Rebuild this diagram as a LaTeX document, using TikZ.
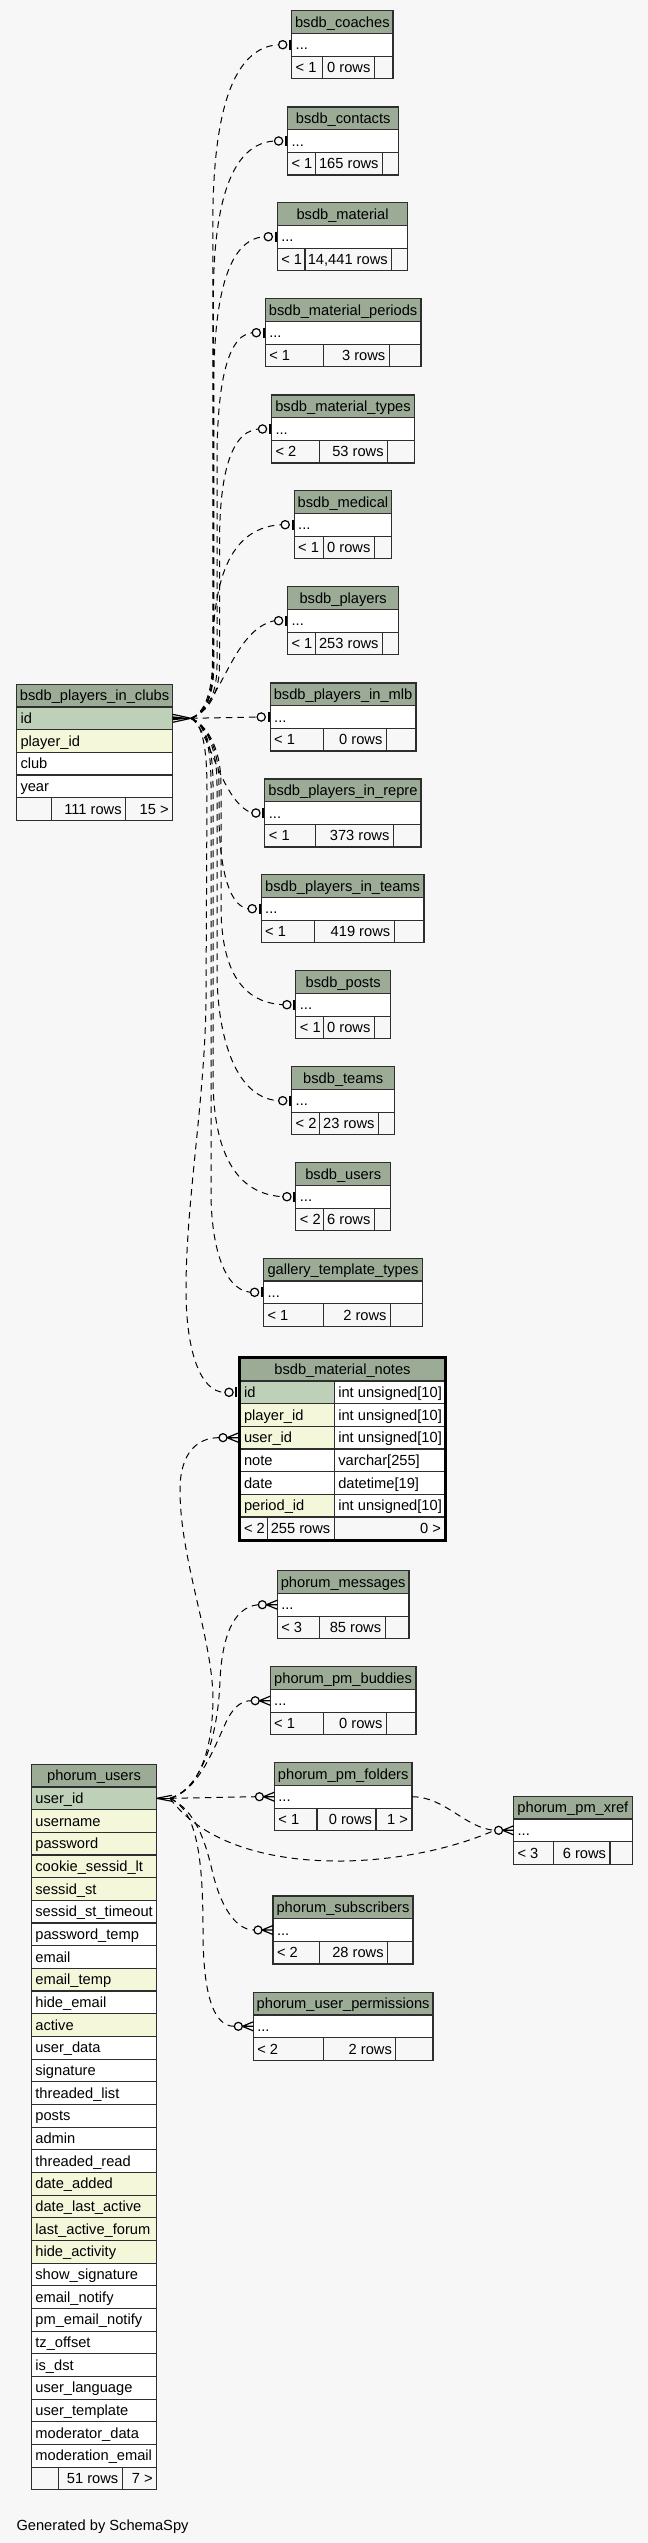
\documentclass[tikz,border=0pt]{standalone}
\usepackage{fontspec}
\setmainfont{Liberation Sans}
\definecolor{ttlc}{HTML}{9BAB96}
\definecolor{pkc}{HTML}{BED1B8}
\definecolor{idxc}{HTML}{F4F7DA}
\definecolor{bgc}{HTML}{F7F7F7}
\definecolor{linec}{HTML}{2E2E2E}
\newcommand{\rowH}{22.67}
\newcommand{\basel}{5.1}
\newcommand{\padx}{4}
\newcommand{\ctabR}{}
% collapsed table: name, xl, yt, xr, s1, s2, title, left, mid
\newcommand{\ctab}[9]{%
  \path[tblfill=ttlc] (#2,#3) rectangle (#4,{#3+\rowH});
  \path[tblfill=white] (#2,{#3+\rowH}) rectangle (#4,{#3+2*\rowH});
  \path[tblfill=bgc] (#2,{#3+2*\rowH}) rectangle (#5,{#3+3*\rowH});
  \path[tblfill=bgc] (#5,{#3+2*\rowH}) rectangle (#6,{#3+3*\rowH});
  \path[tblfill=bgc] (#6,{#3+2*\rowH}) rectangle (#4,{#3+3*\rowH});
  \node[txt,anchor=base] (#1) at ({(#2+#4)/2},{#3+0.5*\rowH+\basel}) {#7};
  \node[txt,anchor=base west] (#1-dots) at ({#2+\padx},{#3+1.5*\rowH+\basel}) {...};
  \node[txt,anchor=base west] (#1-fl) at ({#2+\padx},{#3+2.5*\rowH+\basel}) {#8};
  \node[txt,anchor=base east] (#1-fm) at ({#6-\padx},{#3+2.5*\rowH+\basel}) {#9};
  \node[txt,anchor=base east] (#1-fr) at ({#4-\padx},{#3+2.5*\rowH+\basel}) {\ctabR};
  \coordinate (#1-in) at (#2,{#3+1.5*\rowH});
  \coordinate (#1-out) at (#4,{#3+1.5*\rowH});
  \coordinate (#1-e) at ({#2-13.2},{#3+1.5*\rowH});
  \coordinate (#1-c) at ({#2-19},{#3+1.5*\rowH});
}
% one row: xl, xr, ytop, fill, text, name
\newcommand{\trow}[6]{%
  \path[tblfill=#4] (#1,#3) rectangle (#2,{#3+\rowH});
  \node[txt,anchor=base west] (#6) at ({#1+\padx},{#3+0.5*\rowH+\basel}) {#5};
}
\newcommand{\teeodot}[1]{%
  \draw[line width=1.6pt,draw=black] ([shift={(-1.6,-5)}]#1) -- ([shift={(-1.6,5)}]#1);
  \draw[glyph] ([shift={(-9,0)}]#1) circle[radius=3.1pt];
}
\newcommand{\crowodot}[1]{%
  \draw[crowl] ([shift={(-11,0)}]#1) -- ([shift={(0,-4.5)}]#1)
               ([shift={(-11,0)}]#1) -- (#1)
               ([shift={(-11,0)}]#1) -- ([shift={(0,4.5)}]#1);
  \draw[glyph] ([shift={(-15,0)}]#1) circle[radius=3pt];
}
\begin{document}
\begin{tikzpicture}[x=0.75pt,y=-0.75pt,
  txt/.style={inner sep=0pt,outer sep=0pt,font=\fontsize{11pt}{13pt}\selectfont,text=black},
  tblfill/.style={fill=#1,draw=linec,line width=0.8pt},
  edge/.style={draw=black,line width=0.75pt,dash pattern=on 4.9pt off 3.8pt},
  glyph/.style={draw=black,line width=0.9pt,fill=bgc},
  crowl/.style={draw=black,line width=0.9pt}]
\fill[bgc] (0,0) rectangle (648,2543);
\useasboundingbox (0,0) rectangle (648,2543);

% ---------- collapsed tables ----------
\ctab{coaches}{291.7}{10.7}{393}{322.3}{374.4}{bsdb\_coaches}{< 1}{0 rows}
\ctab{contacts}{287.6}{107}{398.8}{315.3}{382.6}{bsdb\_contacts}{< 1}{165 rows}
\ctab{material}{277.3}{202.7}{407.9}{305}{391.7}{bsdb\_material}{< 1}{14,441 rows}
\ctab{periods}{265.3}{298.7}{421}{323.6}{389.3}{bsdb\_material\_periods}{< 1}{3 rows}
\ctab{types}{271.5}{395}{414.5}{319.4}{387.6}{bsdb\_material\_types}{< 2}{53 rows}
\ctab{medical}{294.2}{490.7}{391.7}{323.6}{374.4}{bsdb\_medical}{< 1}{0 rows}
\ctab{players}{287.6}{586.7}{398.8}{315.3}{382.6}{bsdb\_players}{< 1}{253 rows}
\ctab{mlb}{270.2}{683}{416}{323.6}{386.4}{bsdb\_players\_in\_mlb}{< 1}{0 rows}
\ctab{repre}{264.9}{779}{421}{315.7}{393.4}{bsdb\_players\_in\_repre}{< 1}{373 rows}
\ctab{inteams}{261.2}{874.7}{424}{314.5}{394.2}{bsdb\_players\_in\_teams}{< 1}{419 rows}
\ctab{posts}{295.9}{970.7}{390.5}{323.6}{374.4}{bsdb\_posts}{< 1}{0 rows}
\ctab{teams}{291.7}{1066.7}{394.6}{319.4}{378.5}{bsdb\_teams}{< 2}{23 rows}
\ctab{users}{295.9}{1162.7}{390.5}{323.6}{374.4}{bsdb\_users}{< 2}{6 rows}
\ctab{gallery}{263.6}{1258.3}{422.3}{323.6}{390.5}{gallery\_template\_types}{< 1}{2 rows}
\ctab{messages}{277.3}{1570.7}{409}{319.4}{385.1}{phorum\_messages}{< 3}{85 rows}
\ctab{buddies}{270.2}{1666.7}{416}{323.6}{386.4}{phorum\_pm\_buddies}{< 1}{0 rows}
\renewcommand{\ctabR}{1 >}
\ctab{folders}{274.4}{1762.7}{412}{317}{376}{phorum\_pm\_folders}{< 1}{0 rows}
\renewcommand{\ctabR}{}
\ctab{xref}{513.6}{1796.3}{632.2}{553.3}{610}{phorum\_pm\_xref}{< 3}{6 rows}
\ctab{subscribers}{273}{1896}{413}{319.4}{387.6}{phorum\_subscribers}{< 2}{28 rows}
\ctab{perms}{253.3}{1992.3}{433}{323.6}{395.9}{phorum\_user\_permissions}{< 2}{2 rows}

% ---------- bsdb_players_in_clubs ----------
\path[tblfill=ttlc] (16.5,684.3) rectangle (172.7,{684.3+\rowH});
\node[txt,anchor=base] (pic) at (94.6,{684.3+0.5*\rowH+\basel}) {bsdb\_players\_in\_clubs};
\foreach \t/\c [count=\i] in {id/pkc,player\_id/idxc,club/white,year/white}{
  \trow{16.5}{172.7}{684.3+\i*\rowH}{\c}{\t}{pic-\i}
}
\path[tblfill=bgc] (16.5,{684.3+5*\rowH}) rectangle (51.2,{684.3+6*\rowH});
\path[tblfill=bgc] (51.2,{684.3+5*\rowH}) rectangle (125.6,{684.3+6*\rowH});
\path[tblfill=bgc] (125.6,{684.3+5*\rowH}) rectangle (172.7,{684.3+6*\rowH});
\node[txt,anchor=base east] (pic-fm) at (121.6,{684.3+5.5*\rowH+\basel}) {111 rows};
\node[txt,anchor=base east] (pic-fr) at (168.7,{684.3+5.5*\rowH+\basel}) {15 >};
\coordinate (pic-id-out) at (172.7,718.3);

% ---------- bsdb_material_notes ----------
\path[tblfill=ttlc] (240,1358.3) rectangle (445,{1358.3+\rowH});
\node[txt,anchor=base] (notes) at (342.5,{1358.3+0.5*\rowH+\basel}) {bsdb\_material\_notes};
\foreach \t/\c/\ty [count=\i] in {id/pkc/int unsigned[10],player\_id/idxc/int unsigned[10],user\_id/idxc/int unsigned[10],note/white/varchar[255],date/white/datetime[19],period\_id/idxc/int unsigned[10]}{
  \trow{240}{334.3}{1358.3+\i*\rowH}{\c}{\t}{notes-\i}
  \trow{334.3}{445}{1358.3+\i*\rowH}{white}{\ty}{notes-t\i}
}
\path[tblfill=bgc] (240,{1358.3+7*\rowH}) rectangle (267.8,{1358.3+8*\rowH});
\path[tblfill=bgc] (267.8,{1358.3+7*\rowH}) rectangle (334.3,{1358.3+8*\rowH});
\path[tblfill=bgc] (334.3,{1358.3+7*\rowH}) rectangle (445,{1358.3+8*\rowH});
\node[txt,anchor=base west] (notes-fl) at (244,{1358.3+7.5*\rowH+\basel}) {< 2};
\node[txt,anchor=base east] (notes-fm) at (330.3,{1358.3+7.5*\rowH+\basel}) {255 rows};
\node[txt,anchor=base east] (notes-fr) at (441,{1358.3+7.5*\rowH+\basel}) {0 >};
\draw[black,line width=2.2pt] (239.2,1357.4) rectangle (445.8,1540.6);
\coordinate (notes-id-in) at (238,{1358.3+1.5*\rowH});
\coordinate (notes-id-e) at (224.8,{1358.3+1.5*\rowH});
\coordinate (notes-uid-in) at (238,{1358.3+3.5*\rowH});
\coordinate (notes-uid-c) at (219,{1358.3+3.5*\rowH});

% ---------- phorum_users ----------
\path[tblfill=ttlc] (31.4,1764.3) rectangle (156.6,{1764.3+\rowH});
\node[txt,anchor=base] (pusers) at (94,{1764.3+0.5*\rowH+\basel}) {phorum\_users};
\foreach \t/\c [count=\i] in {user\_id/pkc,username/idxc,password/idxc,cookie\_sessid\_lt/idxc,sessid\_st/idxc,sessid\_st\_timeout/white,password\_temp/white,email/white,email\_temp/idxc,hide\_email/white,active/idxc,user\_data/white,signature/white,threaded\_list/white,posts/white,admin/white,threaded\_read/white,date\_added/idxc,date\_last\_active/idxc,last\_active\_forum/idxc,hide\_activity/idxc,show\_signature/white,email\_notify/white,pm\_email\_notify/white,tz\_offset/white,is\_dst/white,user\_language/white,user\_template/white,moderator\_data/white,moderation\_email/white}{
  \trow{31.4}{156.6}{1764.3+\i*\rowH}{\c}{\t}{pu-\i}
}
\path[tblfill=bgc] (31.4,{1764.3+31*\rowH}) rectangle (58.3,{1764.3+32*\rowH});
\path[tblfill=bgc] (58.3,{1764.3+31*\rowH}) rectangle (122.3,{1764.3+32*\rowH});
\path[tblfill=bgc] (122.3,{1764.3+31*\rowH}) rectangle (156.6,{1764.3+32*\rowH});
\node[txt,anchor=base east] (pu-fm) at (118.3,{1764.3+31.5*\rowH+\basel}) {51 rows};
\node[txt,anchor=base east] (pu-fr) at (152.6,{1764.3+31.5*\rowH+\basel}) {7 >};
\coordinate (pu-id-out) at (156.6,1798.3);

\node[txt,anchor=base west] (gen) at (16.5,2530) {Generated by SchemaSpy};

% ---------- connectors ----------
\coordinate (pc) at (191,718.3);
\coordinate (pu) at (170,1798.3);
\draw[edge] (pc) .. controls (203,714) and (212.8,700) .. (212.8,665) -- (212.8,225) .. controls (212.8,144) and (222.7,48) .. (coaches-e);
\draw[edge] (pc) .. controls (203,714) and (213.3,700) .. (213.3,665) -- (213.3,301) .. controls (213.3,229) and (222.5,144) .. (contacts-e);
\draw[edge] (pc) .. controls (203,714) and (213.8,700) .. (213.8,665) -- (213.8,386.7) .. controls (213.8,319.2) and (221.5,239.7) .. (material-e);
\draw[edge] (pc) .. controls (203,714) and (217,700) .. (217,665) -- (217,462.7) .. controls (217,404.2) and (222.5,335.7) .. (periods-e);
\draw[edge] (pc) .. controls (203,714) and (219.5,700) .. (219.5,665) -- (219.5,544) .. controls (219.5,492) and (225.5,432) .. (types-e);
\draw[edge] (pc) .. controls (203,714) and (212.5,695) .. (212.5,660) .. controls (212.5,596) and (222.4,528) .. (medical-e);
\draw[edge] (pc) .. controls (222,705) and (232,630) .. (players-e);
\draw[edge] (pc) -- (mlb-e);
\draw[edge] (pc) .. controls (210,730) and (220,800) .. (repre-e);
\draw[edge] (pc) .. controls (205,724) and (219,745) .. (219,785) -- (219,813.7) .. controls (219,856.7) and (226,905.7) .. (inteams-e);
\draw[edge] (pc) .. controls (205,724) and (221,745) .. (221,785) -- (221,904.7) .. controls (221,949.7) and (230.2,1001.7) .. (posts-e);
\draw[edge] (pc) .. controls (205,724) and (217,745) .. (217,785) -- (217,970.7) .. controls (217,1029.2) and (232.4,1097.7) .. (teams-e);
\draw[edge] (pc) .. controls (205,724) and (213,745) .. (213,785) -- (213,1076.7) .. controls (213,1142.7) and (230.4,1193.7) .. (users-e);
\draw[edge] (pc) .. controls (205,724) and (211,745) .. (211,785) -- (211,1192.3) .. controls (211,1237.3) and (220.9,1289.3) .. (gallery-e);
\draw[edge] (pc) .. controls (203,724) and (207,750) .. (207,790) -- (206,1000) .. controls (205,1100) and (186,1200) .. (186,1290) .. controls (186,1350) and (200,1392.3) .. (notes-id-e);

\draw[edge] (pu) .. controls (195,1790) and (212,1760) .. (213,1700) .. controls (213,1640) and (180,1560) .. (180,1490) .. controls (180,1452) and (198,1437.6) .. (notes-uid-c);
\draw[edge] (pu) .. controls (200,1790) and (218,1740) .. (220,1680) .. controls (222,1640) and (232,1607) .. (messages-c);
\draw[edge] (pu) .. controls (200,1790) and (215,1745) .. (228,1718) .. controls (235,1706) and (242,1700.7) .. (buddies-c);
\draw[edge] (pu) -- (folders-c);
\draw[edge] (pu) .. controls (230,1880) and (400,1872) .. (xref-c);
\draw[edge] (folders-out) .. controls (445,1796.7) and (465,1828) .. (xref-c);
\draw[edge] (pu) .. controls (195,1810) and (205,1840) .. (212,1870) .. controls (220,1905) and (235,1930) .. (subscribers-c);
\draw[edge] (pu) .. controls (195,1810) and (203,1850) .. (203,1930) .. controls (203,1990) and (212,2026.3) .. (perms-c);

% ---------- end glyphs ----------
\fill[black] ([shift={(0,-2)}]pic-id-out) -- (pc) -- ([shift={(0,2)}]pic-id-out) -- cycle;
\draw[crowl] ([shift={(0,-4)}]pic-id-out) -- (pc) -- ([shift={(0,4)}]pic-id-out);
\draw[crowl] (pu-id-out) -- (pu);
\draw[crowl] (pu-id-out) -- ([shift={(2,-3)}]pu) (pu-id-out) -- ([shift={(2,3)}]pu);

\foreach \n in {coaches,contacts,material,periods,types,medical,players,mlb,repre,inteams,posts,teams,users,gallery,notes-id}{
  \teeodot{\n-in}
}
\foreach \n in {notes-uid,messages,buddies,folders,xref,subscribers,perms}{
  \crowodot{\n-in}
}
\end{tikzpicture}
\end{document}
